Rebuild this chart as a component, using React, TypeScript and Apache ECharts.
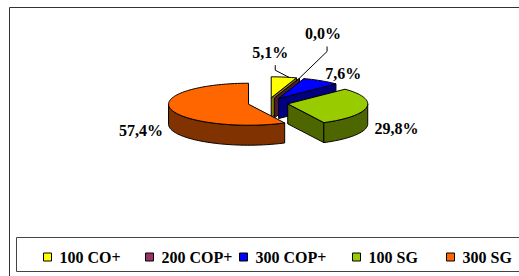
import React, { useEffect, useRef } from 'react';
import * as echarts from 'echarts';

// ---- data ----
const categories = ['100 CO+', '200 COP+', '300 COP+', '100 SG', '300 SG'];
const values = [5.1, 0.0, 7.6, 29.8, 57.4];
const topColors = ['#FFFF00', '#993366', '#0000FF', '#99CC00', '#FF6600'];
const sideColors = ['#808000', '#4D1A33', '#000080', '#4D6600', '#803300'];

// ---- layout / style ----
const CX_FRAC = 268 / 519;
const CY_FRAC = 103 / 276;
const RX = 80;
const RY = 21;
const DEPTH = 20;
const EXPLODE = 20;
const LABEL_GAP = 8;
// Excel moved two colliding labels away and gave them leader lines
const labelNudge = [[-15, -17], [3, -37], [0, 0], [0, 0], [0, 0]];
const legendLeft = [43, 145, 239, 352, 446];
const FONT = 'Liberation Serif';

const total = values.reduce((a, b) => a + b, 0);
const startAngle = (i: number) => {
  let acc = 0;
  for (let k = 0; k < i; k++) acc += values[k];
  return (acc / total) * Math.PI * 2;
};
const midAngle = (i: number) => startAngle(i) + (values[i] / total) * Math.PI;
const fmt = (v: number) => v.toFixed(1).replace('.', ',') + '%';

const renderSlice = (params: any, api: any) => {
  const i = api.value(0) as number;
  const W = api.getWidth();
  const H = api.getHeight();
  const bx = W * CX_FRAC;
  const by = H * CY_FRAC;
  const a0 = startAngle(i);
  const a1 = a0 + (values[i] / total) * Math.PI * 2;
  const am = (a0 + a1) / 2;
  const cx = bx + EXPLODE * Math.sin(am);
  const cy = by - EXPLODE * (RY / RX) * Math.cos(am);
  const pt = (th: number, dz = 0) => [cx + RX * Math.sin(th), cy - RY * Math.cos(th) + dz];
  const arc = (t0: number, t1: number, dz: number) => {
    const n = Math.max(1, Math.ceil((t1 - t0) / (Math.PI / 90)));
    const pts: number[][] = [];
    for (let k = 0; k <= n; k++) pts.push(pt(t0 + ((t1 - t0) * k) / n, dz));
    return pts;
  };
  const line = { stroke: '#000', lineWidth: 1, lineJoin: 'round' };
  const children: any[] = [];
  // end cut face
  if (Math.sin(a1) > 1e-6) {
    children.push({
      type: 'polygon',
      shape: { points: [[cx, cy], pt(a1), pt(a1, DEPTH), [cx, cy + DEPTH]] },
      style: { fill: sideColors[i], ...line },
    });
  }
  // start cut face
  if (Math.sin(a0) < -1e-6) {
    children.push({
      type: 'polygon',
      shape: { points: [[cx, cy], pt(a0), pt(a0, DEPTH), [cx, cy + DEPTH]] },
      style: { fill: sideColors[i], ...line },
    });
  }
  // outer wall (front half)
  const w0 = Math.max(a0, Math.PI / 2);
  const w1 = Math.min(a1, (Math.PI * 3) / 2);
  if (w1 > w0 + 1e-6) {
    children.push({
      type: 'polygon',
      shape: { points: [...arc(w0, w1, 0), ...arc(w0, w1, DEPTH).reverse()] },
      style: { fill: sideColors[i], ...line },
    });
  }
  // top face
  if (a1 - a0 > 1e-6) {
    children.push({
      type: 'polygon',
      shape: { points: [[cx, cy], ...arc(a0, a1, 0)] },
      style: { fill: topColors[i], ...line },
    });
  }
  // label
  const s = Math.sin(am);
  const c = Math.cos(am);
  let lx = cx + (RX + LABEL_GAP) * s;
  let ly = cy - (RY + LABEL_GAP) * c + (c < 0 ? DEPTH : 0);
  const align = s > 0.3 ? 'left' : s < -0.3 ? 'right' : 'center';
  const [nx, ny] = labelNudge[i];
  lx += nx;
  ly += ny;
  if (nx !== 0 || ny !== 0) {
    const rim = pt(a0 + (a1 - a0) * 0.7);
    const sx = align === 'left' ? lx + 22 : lx + 5;
    const sy = ly + 13;
    children.push({
      type: 'polyline',
      shape: { points: [[sx, sy], [sx, sy + 5], rim] },
      style: { fill: 'none', stroke: '#000', lineWidth: 1 },
    });
  }
  children.push({
    type: 'text',
    x: lx,
    y: ly,
    style: {
      text: fmt(values[i]),
      fill: '#000',
      fontFamily: FONT,
      fontWeight: 'bold',
      fontSize: 16,
      align,
      verticalAlign: 'middle',
    },
  });
  return { type: 'group', children };
};

export default function App() {
  const ref = useRef<HTMLDivElement>(null);
  useEffect(() => {
    if (!ref.current) return;
    const chart = echarts.init(ref.current, null, { renderer: 'svg' });
    // back-to-front drawing order
    const order = categories
      .map((_, i) => i)
      .sort((a, b) => Math.cos(midAngle(b)) - Math.cos(midAngle(a)));
    const rank: number[] = [];
    order.forEach((idx, r) => (rank[idx] = r));
    chart.setOption({
      animation: false,
      color: topColors,
      textStyle: { fontFamily: FONT },
      graphic: [
        {
          type: 'rect',
          shape: { x: 9.5, y: 7.5, width: 530, height: 290 },
          style: { fill: 'none', stroke: '#333', lineWidth: 1 },
          z: 0,
        },
        {
          type: 'rect',
          shape: { x: 16.5, y: 237.5, width: 520, height: 34 },
          style: { fill: 'none', stroke: '#444', lineWidth: 1 },
          z: 0,
        },
      ],
      legend: categories.map((name, i) => ({
        data: [name],
        left: legendLeft[i],
        top: 249,
        padding: 0,
        icon: 'rect',
        itemWidth: 8,
        itemHeight: 8,
        itemStyle: { borderColor: '#000', borderWidth: 1 },
        selectedMode: false,
        textStyle: {
          fontFamily: FONT,
          fontWeight: 'bold',
          fontSize: 16,
          color: '#000',
          padding: [0, 0, 0, 3],
        },
      })),
      series: categories.map((name, i) => ({
        type: 'custom',
        name,
        coordinateSystem: 'none',
        z: 2 + rank[i],
        silent: true,
        itemStyle: { color: topColors[i] },
        data: [[i, values[i]]],
        renderItem: renderSlice,
      })),
    });
    return () => chart.dispose();
  }, []);
  return (
    <div
      ref={ref}
      style={{ position: 'absolute', left: 0, top: 0, width: 519, height: 276, background: '#fff' }}
    />
  );
}
